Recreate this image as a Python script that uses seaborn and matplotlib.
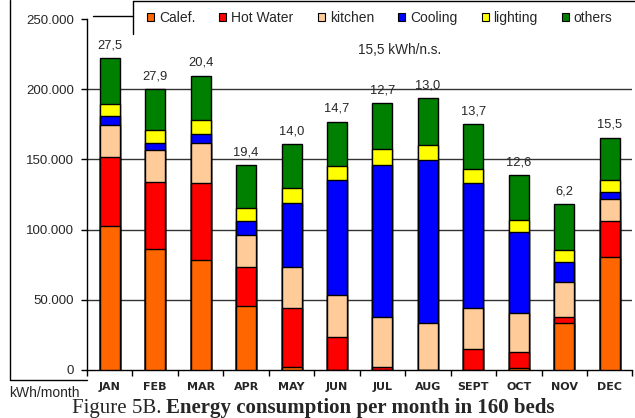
import seaborn as sns
import pandas as pd
import matplotlib.pyplot as plt
import numpy as np
from matplotlib.lines import Line2D
from matplotlib.patches import Patch
from matplotlib.ticker import FuncFormatter, MultipleLocator

months = ["JAN", "FEB", "MAR", "APR", "MAY", "JUN", "JUL", "AUG", "SEPT", "OCT", "NOV", "DEC"]
calef = [102400, 86200, 78100, 45500, 2400, 0, 0, 0, 0, 1200, 33800, 80200]
hot_water = [49300, 47800, 54800, 27800, 42100, 23800, 2400, 0, 15200, 11400, 3600, 25700]
kitchen = [22800, 22900, 28500, 23100, 28600, 29500, 35000, 33600, 29100, 27900, 25200, 16200]
cooling = [6500, 5000, 6500, 9500, 45500, 81700, 108300, 115700, 89000, 57600, 14300, 5000]
lighting = [8800, 9300, 10200, 9600, 10700, 10200, 11400, 10900, 10000, 9000, 8800, 7900]
others = [32200, 28800, 31400, 30400, 31400, 31700, 32900, 33400, 31700, 31500, 32200, 30500]
kwh_ns = ["27,5", "27,9", "20,4", "19,4", "14,0", "14,7", "12,7", "13,0", "13,7", "12,6", "6,2", "15,5"]
mean_label = "15,5 kWh/n.s."

series = ["Calef.", "Hot Water", "kitchen", "Cooling", "lighting", "others"]
colors = ["#FF6600", "#FF0000", "#FFCC99", "#0000FF", "#FFFF00", "#008000"]

df = pd.DataFrame({"month": months, "Calef.": calef, "Hot Water": hot_water,
                   "kitchen": kitchen, "Cooling": cooling, "lighting": lighting,
                   "others": others})
cum = df[series].cumsum(axis=1)
cum["month"] = df["month"]

sns.set_style("white")
plt.rcParams["font.family"] = ["Liberation Sans", "DejaVu Sans"]

fig = plt.figure(figsize=(6.35, 4.18), dpi=100)
ax = fig.add_axes([87 / 635, 1 - 370 / 418, 1 - 87 / 635 - 0.004, (370 - 19) / 418])

# stacked bars: draw cumulative totals from the top layer down
for name, col in reversed(list(zip(series, colors))):
    sns.barplot(data=cum, x="month", y=name, order=months, color=col, saturation=1,
                edgecolor="black", linewidth=1, width=0.44, ax=ax, zorder=3)

totals = cum["others"].values
for i, lab in enumerate(kwh_ns):
    ax.annotate(lab, (i, totals[i]), xytext=(0, 5), textcoords="offset points",
                ha="center", va="bottom", fontsize=9.3)
ax.text(6.38, 228000, mean_label, ha="center", va="center", fontsize=9.8)

ax.set_xlim(-0.46, 11.5)
ax.set_ylim(0, 250000)
ax.set_xlabel("")
ax.set_ylabel("")
ax.yaxis.set_major_locator(MultipleLocator(50000))
ax.yaxis.set_major_formatter(FuncFormatter(lambda v, p: f"{int(v):,}".replace(",", ".")))
for yv in [50000, 100000, 150000, 200000]:
    ax.axhline(yv, color="#333333", linewidth=1, zorder=1)

ax.tick_params(axis="y", left=True, length=4, width=1, color="black", labelsize=9.5, pad=5.5)
ax.set_xticks(np.arange(-0.5, 12, 1), minor=True)
ax.tick_params(axis="x", which="minor", bottom=True, length=4, width=1, color="black")
ax.tick_params(axis="x", which="major", bottom=False, length=0, pad=9)
for t in ax.get_xticklabels():
    t.set_fontsize(8)
    t.set_fontweight("bold")
    t.set_family("DejaVu Sans")

sns.despine(ax=ax, top=True, right=True)
for s in ["left", "bottom"]:
    ax.spines[s].set_color("black")
    ax.spines[s].set_linewidth(1)

# legend along the top
handles = [Patch(facecolor=c, edgecolor="black", linewidth=0.8) for c in colors]
fig.legend(handles, series, loc="center left", bbox_to_anchor=(147 / 635, 1 - 18 / 418),
           ncol=6, frameon=False, fontsize=10, handlelength=0.5, handleheight=0.5,
           handletextpad=0.35, columnspacing=1.75, borderaxespad=0, borderpad=0)

# frame fragments
def fline(x0, y0, x1, y1):
    fig.add_artist(Line2D([x0 / 635, x1 / 635], [1 - y0 / 418, 1 - y1 / 418],
                          color="black", linewidth=1))

fline(133, 1, 635, 1)
fline(133, 1, 133, 34)
fline(93, 16, 133, 16)
fline(10, 0, 10, 380)
fline(10, 380, 87, 380)

fig.text(9 / 635, 1 - 393 / 418, "kWh/month", ha="left", va="center", fontsize=10)
cap = fig.text(72 / 635, 1 - 413 / 418, "Figure 5B.", ha="left", va="baseline",
               family="Liberation Serif", fontsize=15)
fig.canvas.draw()
ax.annotate("Energy consumption per month in 160 beds", xy=(1, 0), xycoords=cap,
            xytext=(3.5, 0), textcoords="offset points", ha="left", va="bottom",
            family="Liberation Serif", fontsize=15, fontweight="bold",
            annotation_clip=False)

fig.savefig("out.png", dpi=100)
